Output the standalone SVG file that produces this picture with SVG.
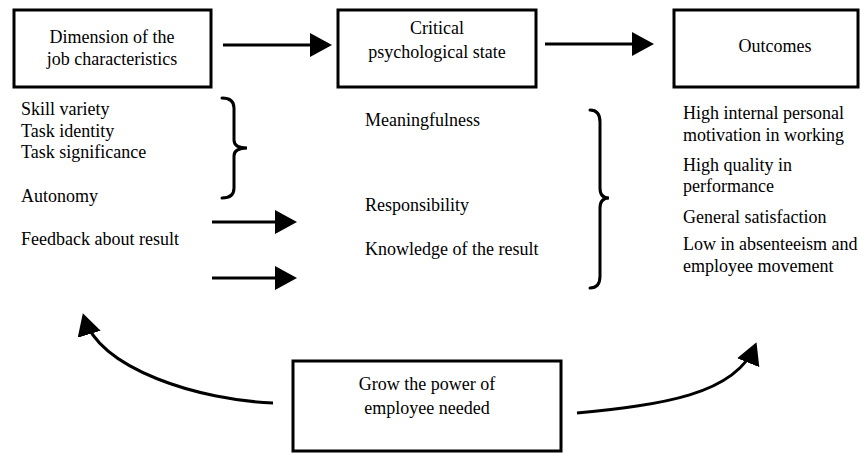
<svg xmlns="http://www.w3.org/2000/svg" width="861" height="454" viewBox="0 0 861 454" font-family="'Liberation Serif', 'Times New Roman', Times, 'DejaVu Serif', serif">
<style>
.box{fill:#fff;stroke:#000;stroke-width:3}
.t{font-family:'Liberation Serif','Times New Roman',Times,'DejaVu Serif',serif;font-size:18px;fill:#000}
.c{text-anchor:middle}
.ln{fill:none;stroke:#000;stroke-width:3}
.br{fill:none;stroke:#000;stroke-width:3;stroke-linecap:round}
</style>
<defs>
<marker id="ah" markerUnits="userSpaceOnUse" markerWidth="22" markerHeight="24" refX="18" refY="12" orient="auto" viewBox="0 0 22 24">
<path d="M0,0 L22,12 L0,24 z" fill="#000"/>
</marker>
</defs>
<rect width="861" height="454" fill="#fff"/>
<g id="node-dimension">
<rect class="box" x="14" y="10" width="197" height="77"/>
<text class="t c" x="112" y="43">Dimension of the</text>
<text class="t c" x="112" y="65">job characteristics</text>
</g>
<g id="node-critical">
<rect class="box" x="338" y="10" width="198" height="77"/>
<text class="t c" x="437" y="34">Critical</text>
<text class="t c" x="437" y="58">psychological state</text>
</g>
<g id="node-outcomes">
<rect class="box" x="674" y="10" width="184" height="77"/>
<text class="t c" x="775" y="52">Outcomes</text>
</g>
<g id="node-grow">
<rect class="box" x="293" y="361" width="268" height="90"/>
<text class="t c" x="427" y="390">Grow the power of</text>
<text class="t c" x="427" y="414">employee needed</text>
</g>
<g id="list-dimensions">
<text class="t" x="21" y="115">Skill variety</text>
<text class="t" x="21" y="137">Task identity</text>
<text class="t" x="21" y="158">Task significance</text>
<text class="t" x="21" y="202">Autonomy</text>
<text class="t" x="21" y="245">Feedback about result</text>
<path class="br" d="M222,98 Q234,98 234,108 L234,140 Q234,148 247,148 Q234,148 234,156 L234,188 Q234,198 222,198"/>
</g>
<g id="list-states">
<text class="t" x="365" y="126">Meaningfulness</text>
<text class="t" x="365" y="211">Responsibility</text>
<text class="t" x="365" y="255">Knowledge of the result</text>
<path class="br" d="M590,110 Q600,110 600,122 L600,188 Q600,198 609,198 Q600,198 600,208 L600,276 Q600,288 590,288"/>
</g>
<g id="list-outcomes">
<text class="t" x="683" y="119">High internal personal</text>
<text class="t" x="683" y="141">motivation in working</text>
<text class="t" x="683" y="171">High quality in</text>
<text class="t" x="683" y="192">performance</text>
<text class="t" x="683" y="223">General satisfaction</text>
<text class="t" x="683" y="250">Low in absenteeism and</text>
<text class="t" x="683" y="272">employee movement</text>
</g>
<g id="connectors">
<line class="ln" x1="223" y1="45" x2="328" y2="45" marker-end="url(#ah)"/>
<line class="ln" x1="545" y1="44" x2="650" y2="44" marker-end="url(#ah)"/>
<line class="ln" x1="212" y1="222" x2="293" y2="222" marker-end="url(#ah)"/>
<line class="ln" x1="212" y1="278" x2="293" y2="278" marker-end="url(#ah)"/>
<path class="ln" d="M273,403 C200,400 100,370 84,317" marker-end="url(#ah)"/>
<path class="ln" d="M577,413 C660,405 735,395 755,346" marker-end="url(#ah)"/>
</g>
</svg>
